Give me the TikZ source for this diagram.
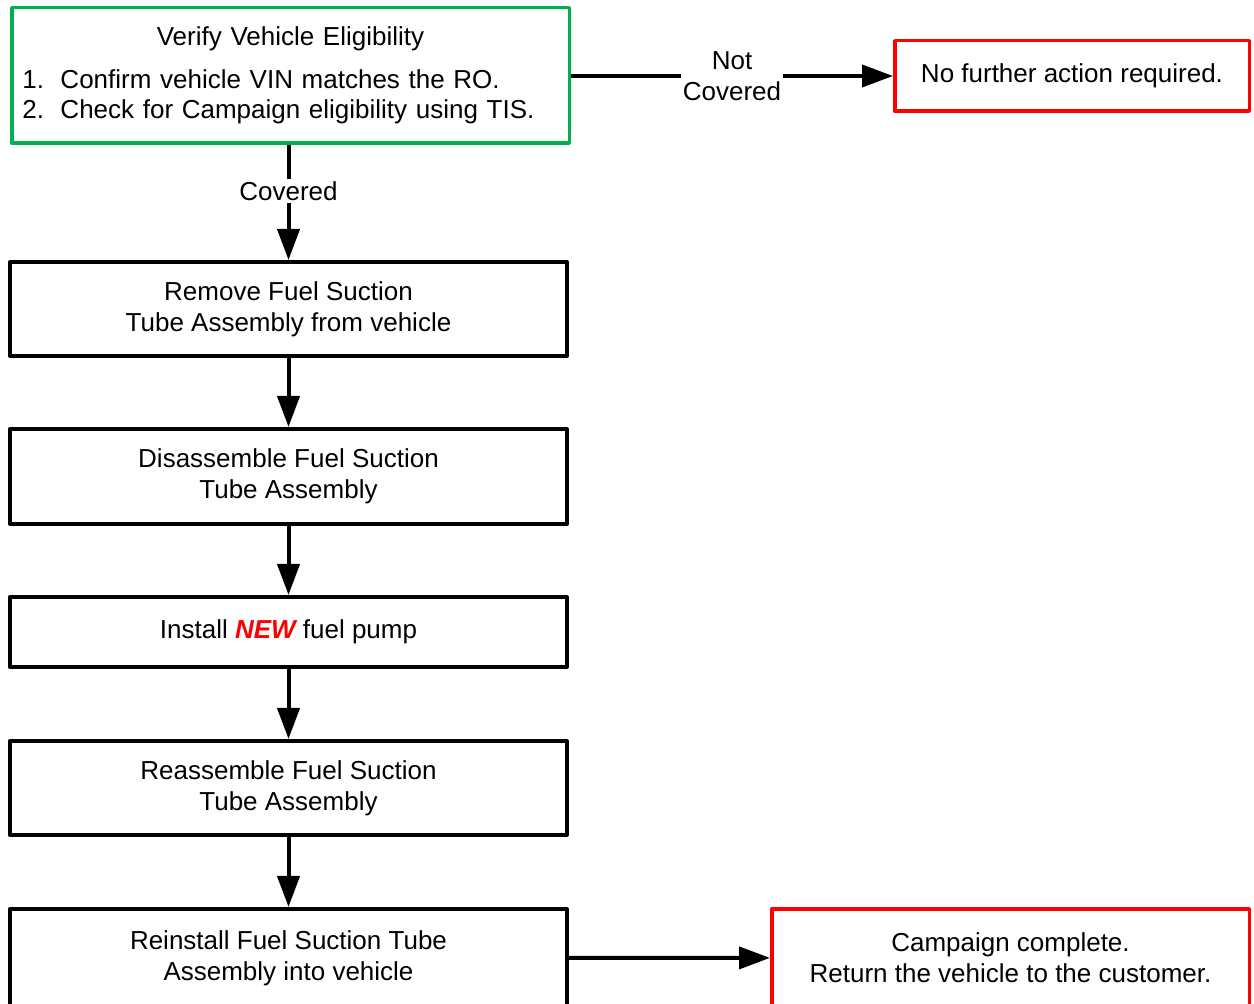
\documentclass[tikz,border=0pt]{standalone}
\usepackage{fontspec}
\setmainfont{Liberation Sans}
\usetikzlibrary{arrows.meta}
\definecolor{boxgreen}{RGB}{0,176,80}
\definecolor{boxred}{RGB}{255,0,0}
\begin{document}
\begin{tikzpicture}[x=0.5pt,y=-0.5pt,
  every node/.style={font=\fontsize{13}{15.5}\selectfont},
  stepbox/.style={draw=black, line width=2pt, minimum width=278.5pt, inner sep=0pt, align=center, line join=round},
  gbox/.style={draw=boxgreen, line width=1.75pt, minimum width=278.75pt, minimum height=67.75pt, inner sep=0pt, line join=round},
  rbox/.style={draw=boxred, line width=1.75pt, inner sep=0pt, align=center, line join=round},
  flow/.style={line width=2pt, -{Triangle[length=15.5pt,width=11pt]}},
  lbl/.style={fill=white, inner sep=1pt, align=center}]
\useasboundingbox (0,0) rectangle (1254,1004);

\node[gbox, text width=268pt] (g) at (290.5,75.5) {%
  \setlength{\parindent}{0pt}\fontsize{13}{15}\selectfont
  {\centering Verify Vehicle Eligibility\par}
  \vspace{6.5pt}
  \makebox[19pt][l]{1.}Confirm vehicle VIN matches the RO.\par
  \makebox[19pt][l]{2.}Check for Campaign eligibility using TIS.\par};

\node[stepbox, minimum height=47pt] (b1) at (288.5,309) {Remove Fuel Suction\\Tube Assembly from vehicle};
\node[stepbox, minimum height=47.5pt] (b2) at (288.5,476.5) {Disassemble Fuel Suction\\Tube Assembly};
\node[stepbox, minimum height=35pt] (b3) at (288.5,632) {Install \textcolor{boxred}{\bfseries\itshape NEW} fuel pump};
\node[stepbox, minimum height=47pt] (b4) at (288.5,788) {Reassemble Fuel Suction\\Tube Assembly};
\node[stepbox, minimum height=49pt] (b5) at (288.5,958) {Reinstall Fuel Suction Tube\\Assembly into vehicle};

\node[rbox, minimum width=177.25pt, minimum height=35.25pt] (r1) at (1072,76) {No further action required.};
\node[rbox, minimum width=238.75pt, minimum height=49.1pt] (r2) at (1010.5,957.9) {Campaign complete.\\Return the vehicle to the customer.};

\draw[flow] (b1.north |- g.south) -- node[lbl, pos=0.4] (lc) {Covered} (b1.north);
\draw[flow] (g.east |- r1.west) -- node[lbl] (lnc) {Not\\Covered} (r1.west);
\draw[flow] (b1.south) -- (b2.north);
\draw[flow] (b2.south) -- (b3.north);
\draw[flow] (b3.south) -- (b4.north);
\draw[flow] (b4.south) -- (b5.north);
\draw[flow] (b5.east) -- (r2.west);
\end{tikzpicture}
\end{document}
